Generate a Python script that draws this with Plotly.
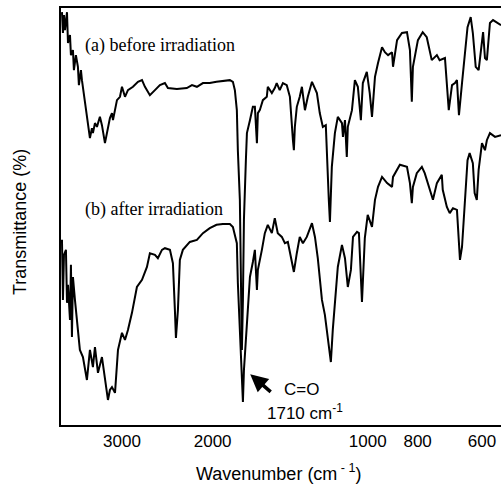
import plotly.graph_objects as go

# Wavenumber (cm^-1) and transmittance (%, arbitrary offset)
wn_a = [3923, 3906, 3888, 3871, 3836, 3819, 3785, 3769, 3735, 3719, 3686, 3653, 3637, 3604, 3588,
        3556, 3540, 3509, 3493, 3462, 3431, 3416, 3385, 3355, 3311, 3281, 3237, 3194, 3166, 3137,
        3123, 3068, 3027, 3000, 2960, 2921, 2856, 2793, 2743, 2707, 2648, 2589, 2532, 2476, 2443,
        2347, 2245, 2194, 2146, 2089, 2026, 1966, 1911, 1852, 1827, 1811, 1795, 1787, 1771, 1763,
        1755, 1747, 1739, 1724, 1716, 1693, 1671, 1656, 1641, 1634, 1620, 1598, 1570, 1563, 1535,
        1515, 1502, 1482, 1461, 1436, 1416, 1397, 1391, 1385, 1373, 1355, 1342, 1324, 1307, 1283,
        1255, 1239, 1222, 1206, 1200, 1190, 1184, 1179, 1174, 1158, 1143, 1122, 1117, 1107, 1098,
        1093, 1073, 1059, 1045, 1031, 1022, 1004, 991, 981, 968, 955, 938, 926, 913, 897,
        893, 877, 858, 839, 828, 821, 817, 799, 782, 768, 751, 734, 725, 708, 702,
        696, 686, 677, 671, 665, 656, 648, 640, 631, 625, 617, 609, 597, 592, 587,
        579, 571, 561, 551]
t_a = [99.0, 94.0, 98.3, 94.7, 99.0, 91.6, 93.5, 88.7, 89.9, 85.1, 88.7, 85.9, 81.5, 85.1, 82.7,
       79.1, 77.9, 73.1, 71.5, 68.8, 71.2, 70.0, 72.4, 71.5, 73.9, 71.9, 67.6, 71.5, 73.6, 74.8,
       73.1, 77.9, 78.7, 81.1, 78.7, 80.3, 81.1, 82.3, 82.7, 81.1, 79.1, 80.3, 81.5, 82.0, 80.8,
       80.6, 80.8, 81.5, 81.1, 82.0, 82.0, 82.3, 82.5, 82.7, 82.3, 80.3, 75.5, 65.9, 54.0, 30.0,
       18.0, 30.0, 49.2, 63.5, 70.0, 73.1, 76.3, 76.3, 67.6, 74.8, 75.5, 77.9, 78.7, 81.1, 79.6,
       80.8, 82.0, 80.3, 82.0, 81.5, 78.7, 68.3, 65.9, 71.5, 76.3, 78.7, 81.1, 75.5, 78.7, 82.3,
       79.6, 74.8, 71.5, 71.9, 63.5, 54.0, 48.7, 54.0, 61.9, 70.0, 73.9, 72.4, 69.1, 73.1, 64.3,
       71.5, 75.5, 82.7, 81.1, 73.1, 82.0, 84.7, 79.6, 73.9, 83.5, 86.8, 90.6, 89.4, 88.7, 89.4,
       85.9, 92.3, 94.0, 94.2, 89.9, 77.5, 85.9, 92.3, 94.2, 93.0, 87.5, 88.7, 87.5, 88.0, 82.0,
       75.5, 81.5, 82.0, 82.7, 74.3, 82.0, 89.2, 95.4, 97.8, 94.0, 85.9, 85.1, 94.2, 88.0, 87.5,
       96.4, 97.1, 96.6, 95.9]

wn_b = [3923, 3906, 3888, 3854, 3836, 3819, 3785, 3769, 3752, 3735, 3702, 3653, 3621, 3572, 3509,
        3462, 3416, 3385, 3340, 3281, 3237, 3194, 3166, 3137, 3095, 3054, 3000, 2960, 2921, 2869,
        2806, 2743, 2683, 2648, 2589, 2555, 2509, 2476, 2421, 2389, 2368, 2357, 2336, 2316, 2285,
        2215, 2146, 2089, 2026, 1966, 1911, 1852, 1827, 1795, 1787, 1771, 1755, 1747, 1739, 1716,
        1693, 1671, 1656, 1641, 1634, 1605, 1584, 1563, 1535, 1515, 1495, 1468, 1448, 1429, 1403,
        1391, 1373, 1355, 1336, 1313, 1283, 1266, 1250, 1227, 1211, 1195, 1179, 1169, 1153, 1143,
        1122, 1107, 1093, 1078, 1068, 1049, 1040, 1026, 1013, 1000, 981, 968, 955, 938, 917,
        897, 893, 877, 866, 839, 828, 821, 817, 803, 785, 775, 758, 747, 734, 728,
        718, 715, 702, 693, 683, 671, 668, 662, 656, 648, 640, 634, 625, 620, 614,
        609, 600, 592, 587, 579, 566, 551]
t_b = [44.4, 30.0, 40.8, 42.0, 29.3, 33.6, 25.2, 38.4, 21.1, 35.5, 30.0, 23.5, 18.0, 16.3, 10.8,
       18.0, 13.9, 18.7, 12.5, 16.3, 10.8, 6.0, 8.4, 9.1, 7.7, 18.0, 22.1, 20.4, 22.8, 26.9,
       33.1, 34.8, 37.9, 41.2, 40.8, 40.0, 42.0, 42.4, 42.0, 38.8, 27.6, 20.9, 27.6, 39.6, 42.0,
       43.9, 44.4, 46.0, 47.2, 48.0, 48.2, 48.2, 47.5, 43.6, 34.1, 22.1, 10.8, 5.5, 13.2, 23.5,
       35.5, 39.1, 42.0, 32.4, 37.2, 42.0, 46.0, 48.0, 46.0, 49.6, 46.0, 45.1, 43.6, 43.9, 38.8,
       36.7, 41.2, 45.1, 43.6, 45.1, 48.4, 45.1, 40.0, 30.0, 26.4, 21.1, 15.1, 22.8, 31.7, 37.9,
       43.2, 40.0, 33.1, 37.2, 45.1, 46.3, 46.0, 29.5, 44.8, 50.4, 47.5, 54.0, 57.1, 59.5, 58.0,
       57.1, 59.5, 61.2, 62.4, 61.9, 58.0, 53.2, 57.1, 60.4, 61.9, 60.4, 56.4, 54.0, 58.0, 58.8,
       60.0, 56.4, 52.3, 50.8, 52.0, 51.6, 46.8, 39.6, 42.7, 54.0, 63.5, 65.2, 62.8, 55.6, 54.0,
       61.2, 67.6, 65.9, 68.3, 70.0, 69.1, 69.5]

tick_vals = [3000, 2000, 1000, 800, 600]
tick_text = ["3000", "2000", "1000", "800", "600"]

fig = go.Figure()
fig.add_trace(go.Scatter(x=wn_a, y=t_a, mode="lines",
                         line=dict(color="black", width=2), showlegend=False))
fig.add_trace(go.Scatter(x=wn_b, y=t_b, mode="lines",
                         line=dict(color="black", width=2), showlegend=False))

serif = "Liberation Serif, Times New Roman, serif"
sans = "Liberation Sans, Arial, sans-serif"

annotations = [
    dict(text="(a) before irradiation", x=0.05, y=0.911, xref="paper", yref="paper",
         xanchor="left", yanchor="middle", showarrow=False,
         font=dict(family=serif, size=18, color="black")),
    dict(text="(b) after irradiation", x=0.05, y=0.516, xref="paper", yref="paper",
         xanchor="left", yanchor="middle", showarrow=False,
         font=dict(family=serif, size=18, color="black")),
    dict(text="C=O", x=0.502, y=0.084, xref="paper", yref="paper",
         xanchor="left", yanchor="middle", showarrow=False,
         font=dict(family=sans, size=17, color="black")),
    dict(text="1710 cm<sup>-1</sup>", x=0.463, y=0.030, xref="paper", yref="paper",
         xanchor="left", yanchor="middle", showarrow=False,
         font=dict(family=sans, size=17, color="black")),
    dict(text="", x=0.430, y=0.122, xref="paper", yref="paper",
         showarrow=True, arrowhead=2, arrowsize=1.0, arrowwidth=3.5, arrowcolor="black",
         ax=22, ay=19),
    dict(text="Transmittance (%)", x=-0.093, y=0.487, xref="paper", yref="paper",
         xanchor="center", yanchor="middle", showarrow=False, textangle=-90,
         font=dict(family=sans, size=18, color="black")),
    dict(text="Wavenumber (cm<sup> - 1</sup>)", x=0.495, y=-0.113, xref="paper", yref="paper",
         xanchor="center", yanchor="middle", showarrow=False,
         font=dict(family=sans, size=18, color="black")),
]

fig.update_layout(
    width=501, height=489,
    margin=dict(l=61, r=0, t=8, b=64),
    paper_bgcolor="white", plot_bgcolor="white",
    annotations=annotations,
    xaxis=dict(type="log", range=[3.5955, 2.7412], showgrid=False, zeroline=False,
               showline=True, mirror=True, linecolor="black", linewidth=2,
               tickvals=tick_vals, ticktext=tick_text, ticks="",
               tickfont=dict(family=sans, size=17, color="black")),
    yaxis=dict(range=[0, 100], showgrid=False, zeroline=False, showticklabels=False,
               showline=True, mirror=False, linecolor="black", linewidth=2, ticks=""),
)

fig.write_html("out.html")
